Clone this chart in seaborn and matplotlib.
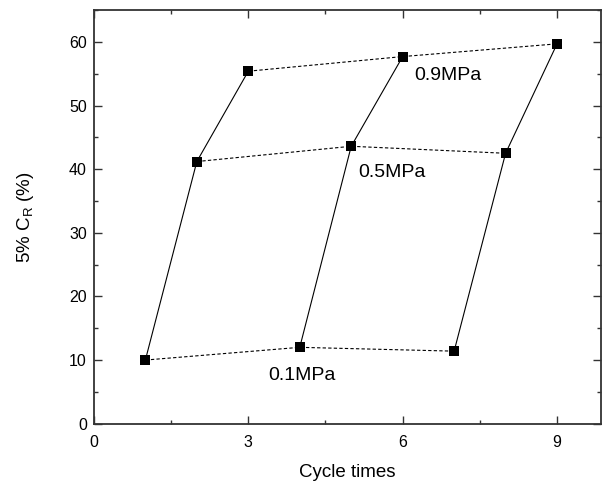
import pandas as pd
import matplotlib.pyplot as plt
import seaborn as sns
from matplotlib.ticker import MultipleLocator

# Data
cycles = [1, 2, 3, 4, 5, 6, 7, 8, 9]
cr_values = [10.0, 41.2, 55.4, 12.0, 43.6, 57.7, 11.4, 42.5, 59.7]
pressures = ["0.1MPa", "0.5MPa", "0.9MPa"] * 3
stages = [1, 1, 1, 2, 2, 2, 3, 3, 3]

label_text = ["0.9MPa", "0.5MPa", "0.1MPa"]
label_x = [6.23, 5.13, 3.38]
label_y = [54.7, 39.5, 7.5]

df = pd.DataFrame({"cycle": cycles, "cr": cr_values,
                   "pressure": pressures, "stage": stages})

sns.set_style("ticks")
plt.rcParams['font.family'] = ['Liberation Sans', 'DejaVu Sans']
plt.rcParams['text.color'] = 'black'
plt.rcParams['axes.labelcolor'] = 'black'
plt.rcParams['xtick.color'] = 'black'
plt.rcParams['ytick.color'] = 'black'

fig = plt.figure(figsize=(6.02, 4.82), dpi=100)
ax = fig.add_axes([0.156, 0.121, 0.842, 0.858])

# solid lines within each stage
sns.lineplot(data=df, x="cycle", y="cr", units="stage", estimator=None,
             sort=False, color="black", lw=0.8, ax=ax)
# dotted lines for same pressure
sns.lineplot(data=df, x="cycle", y="cr", units="pressure", estimator=None,
             sort=False, color="black", lw=0.8, linestyle=(0, (3, 2)), ax=ax)
sns.scatterplot(data=df, x="cycle", y="cr", marker="s", color="black",
                s=60, edgecolor="black", linewidth=0, zorder=5, ax=ax)

for t, x, y in zip(label_text, label_x, label_y):
    ax.text(x, y, t, fontsize=14, va="center", ha="left")

ax.set_xlim(0, 9.85)
ax.set_ylim(0, 65)
ax.xaxis.set_major_locator(MultipleLocator(3))
ax.xaxis.set_minor_locator(MultipleLocator(1.5))
ax.yaxis.set_major_locator(MultipleLocator(10))
ax.yaxis.set_minor_locator(MultipleLocator(5))
ax.tick_params(which="both", direction="in", top=True, right=True,
               labeltop=False, labelright=False, color="#333333")
ax.tick_params(which="major", length=6, width=1, labelsize=11.5)
ax.tick_params(axis="x", which="major", pad=8)
ax.tick_params(axis="y", which="major", pad=5)
ax.tick_params(which="minor", length=3, width=1)
for s in ax.spines.values():
    s.set_linewidth(1.3)
    s.set_color("#333333")

ax.set_xlabel("Cycle times", fontsize=13.5, labelpad=10)
ax.set_ylabel("5% C$_\\mathregular{R}$ (%)", fontsize=13.5, labelpad=24)

fig.savefig("out.png", dpi=100)
